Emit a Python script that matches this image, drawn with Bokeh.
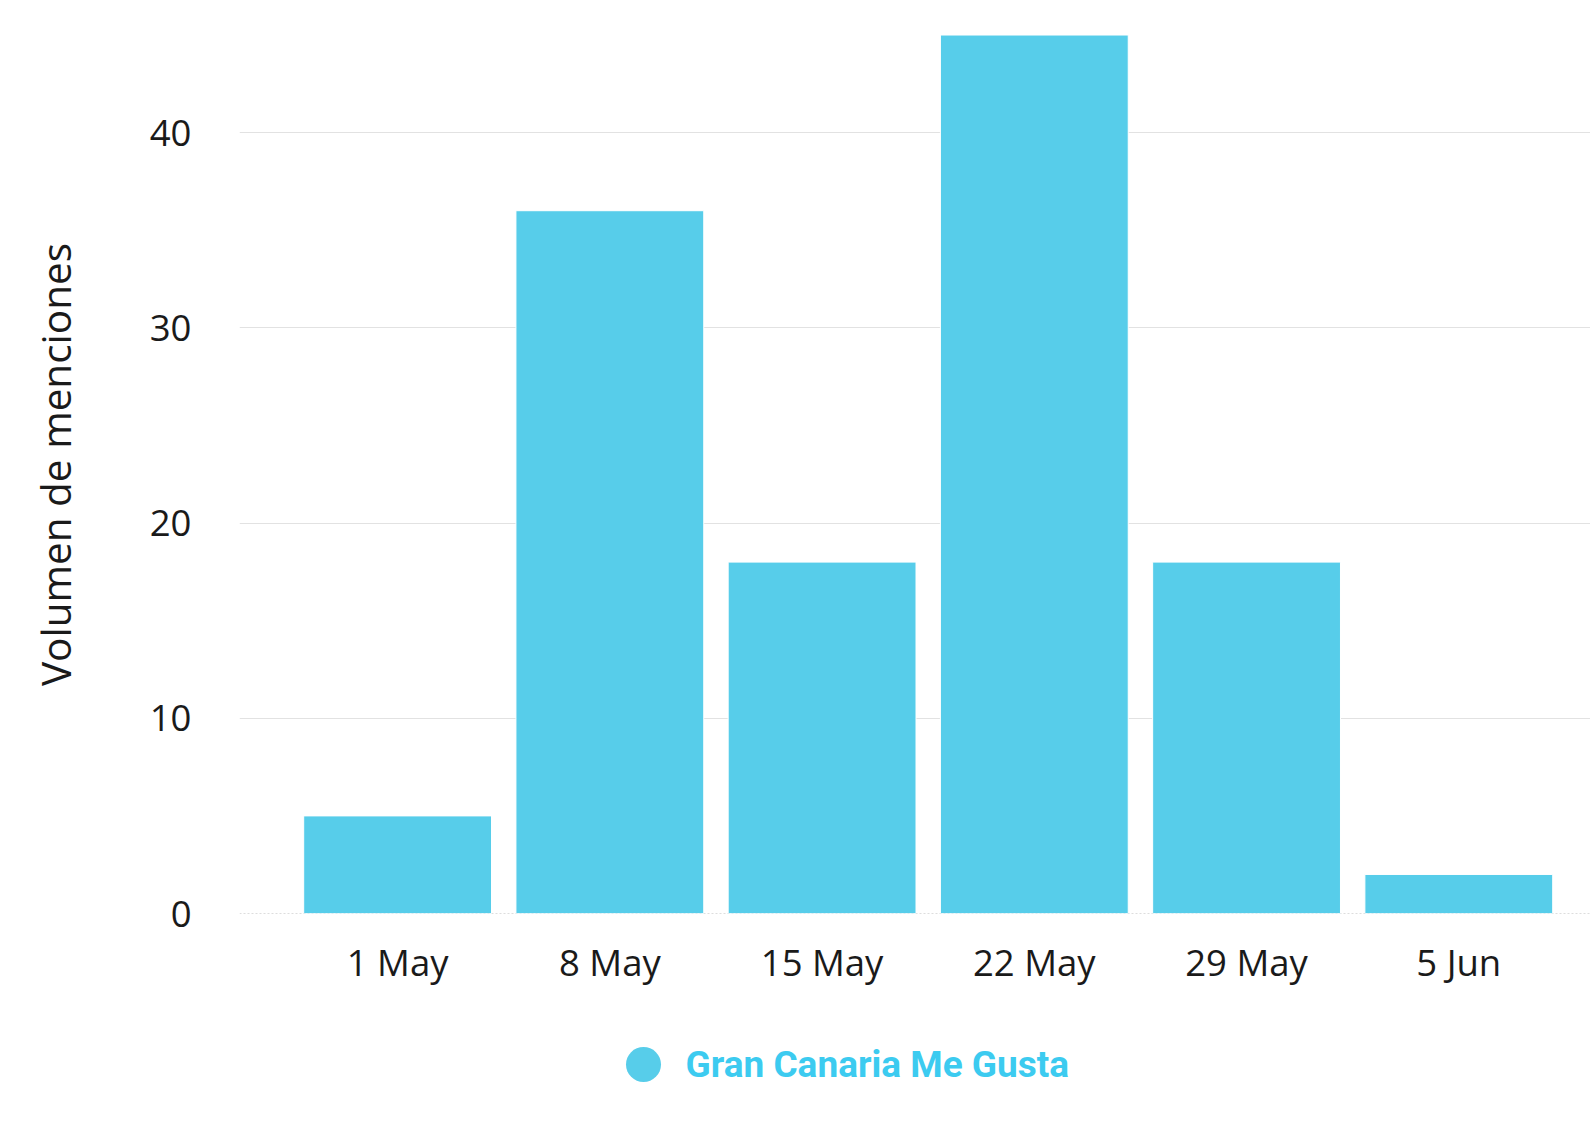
from bokeh.plotting import figure
from bokeh.layouts import column
from bokeh.models import ColumnDataSource, Range1d, FixedTicker
from bokeh.core.properties import value
from bokeh.embed import file_html
from bokeh.resources import INLINE

# weekly mention counts
weeks = ["1 May", "8 May", "15 May", "22 May", "29 May", "5 Jun"]
mentions = [5, 36, 18, 45, 18, 2]
series_name = "Gran Canaria Me Gusta"
y_title = "Volumen de menciones"
y_ticks = [0, 10, 20, 30, 40]

BAR_COLOR = "#57cdea"
FONT = "Open Sans"
LEFT = 239
FRAME_W = 1353

source = ColumnDataSource(data=dict(x=list(range(len(weeks))), top=mentions))

p = figure(
    x_range=Range1d(-0.745, 5.63),
    y_range=Range1d(0, 46),
    toolbar_location=None,
    tools="",
    output_backend="svg",
    min_border_left=LEFT,
    min_border_right=0,
    min_border_top=15,
    min_border_bottom=0,
)
p.frame_width = FRAME_W
p.frame_height = 898
p.outline_line_color = None

p.vbar(x="x", top="top", width=0.885, bottom=0, source=source,
       fill_color=BAR_COLOR, line_color="white", line_width=1)

# zero baseline, dotted
p.hspan(y=[0], line_color="#bbbbbb", line_width=1, line_dash="2 2", level="underlay")

p.xaxis.ticker = FixedTicker(ticks=list(range(len(weeks))))
p.xaxis.major_label_overrides = {i: w for i, w in enumerate(weeks)}
p.yaxis.ticker = FixedTicker(ticks=y_ticks)

for ax in (p.xaxis, p.yaxis):
    ax.axis_line_color = None
    ax.major_tick_line_color = None
    ax.minor_tick_line_color = None
    ax.major_label_text_font = FONT
    ax.major_label_text_font_size = "36.5px"
    ax.major_label_text_color = "#1a1a1a"

p.yaxis.major_label_standoff = 42
p.xaxis.major_label_standoff = 17
p.yaxis.axis_label = y_title
p.yaxis.axis_label_text_font = FONT
p.yaxis.axis_label_text_font_size = "40.5px"
p.yaxis.axis_label_text_font_style = "normal"
p.yaxis.axis_label_text_color = "#1a1a1a"
p.yaxis.axis_label_standoff = 64

p.xgrid.grid_line_color = None
p.ygrid.grid_line_color = "#e2e2e2"
p.ygrid.grid_line_width = 1

# legend strip drawn by hand underneath; its frame lines up with the main one,
# so the x range is given in canvas pixels
leg = figure(
    width=LEFT + FRAME_W,
    height=110,
    x_range=Range1d(LEFT, LEFT + FRAME_W),
    y_range=Range1d(0, 110),
    toolbar_location=None,
    tools="",
    output_backend="svg",
    min_border=0,
    min_border_left=LEFT,
)
leg.frame_width = FRAME_W
leg.axis.visible = False
leg.grid.visible = False
leg.outline_line_color = None
leg.scatter(x=[643], y=[35], size=35, marker="circle",
            fill_color=BAR_COLOR, line_color=None)
leg.text(x=[685], y=[35], text=[series_name], text_font=value("Roboto"),
         text_font_size="37px", text_font_style="bold", text_color="#3ccbf0",
         text_baseline="middle", text_align="left")

layout = column(p, leg, spacing=0)
open("out.html", "w").write(file_html(layout, INLINE))
